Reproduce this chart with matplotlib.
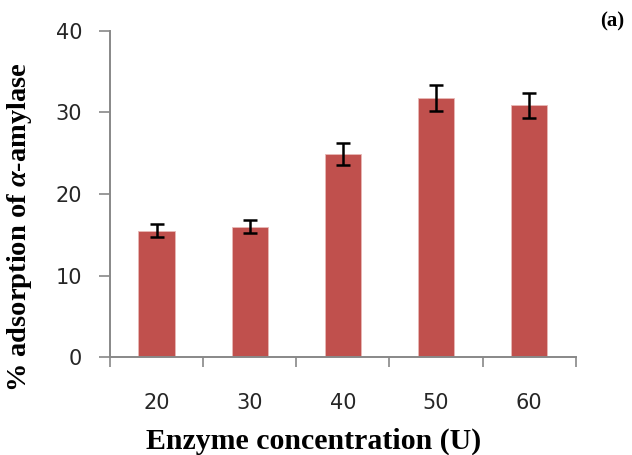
import numpy as np
import matplotlib.pyplot as plt

plt.rcParams['mathtext.fontset'] = 'custom'
plt.rcParams['mathtext.rm'] = 'Liberation Serif:bold'
plt.rcParams['mathtext.it'] = 'Liberation Serif:italic:bold'

concentrations = ['20', '30', '40', '50', '60']
adsorption = [15.5, 16.0, 24.9, 31.8, 30.9]
errors = [0.8, 0.8, 1.3, 1.6, 1.55]

fig = plt.figure(figsize=(6.32, 4.55), dpi=100)
ax = fig.add_axes([0.174, 0.215, 0.737, 0.717])

x = np.arange(len(concentrations))
ax.bar(x, adsorption, width=0.39, color='#C0504D', edgecolor='#E8B8B6', linewidth=0.6, zorder=2)
ax.errorbar(x, adsorption, yerr=errors, fmt='none', ecolor='black', elinewidth=1.8,
            capsize=5, capthick=1.8, zorder=3)

ax.set_xlim(-0.5, len(x) - 0.5)
ax.set_ylim(0, 40)
ax.set_yticks([0, 10, 20, 30, 40])
ax.set_xticks(x)
ax.set_xticklabels(concentrations)
ax.set_xticks(np.arange(-0.5, len(x)), minor=True)
ax.tick_params(axis='x', which='major', length=0, pad=26, labelsize=15, colors='#262626')
ax.tick_params(axis='x', which='minor', length=7, width=1.2, color='#888888')
ax.tick_params(axis='y', length=8, width=1.2, color='#888888', labelsize=15, pad=12,
               labelcolor='#262626')

for s in ['top', 'right']:
    ax.spines[s].set_visible(False)
for s in ['left', 'bottom']:
    ax.spines[s].set_color('#888888')
    ax.spines[s].set_linewidth(1.4)

ax.set_xlabel('Enzyme concentration (U)', family='Liberation Serif', fontweight='bold',
              fontsize=21.5)
ax.xaxis.set_label_coords(0.438, -0.215)
ax.set_ylabel(r'% adsorption of $\alpha$-amylase', family='Liberation Serif',
              fontweight='bold', fontsize=20.5)
ax.yaxis.set_label_coords(-0.163, 0.40)
fig.text(0.968, 0.952, '(a)', family='Liberation Serif', fontweight='bold', fontsize=15,
         ha='center', va='center')

fig.savefig('out.png', dpi=100)
